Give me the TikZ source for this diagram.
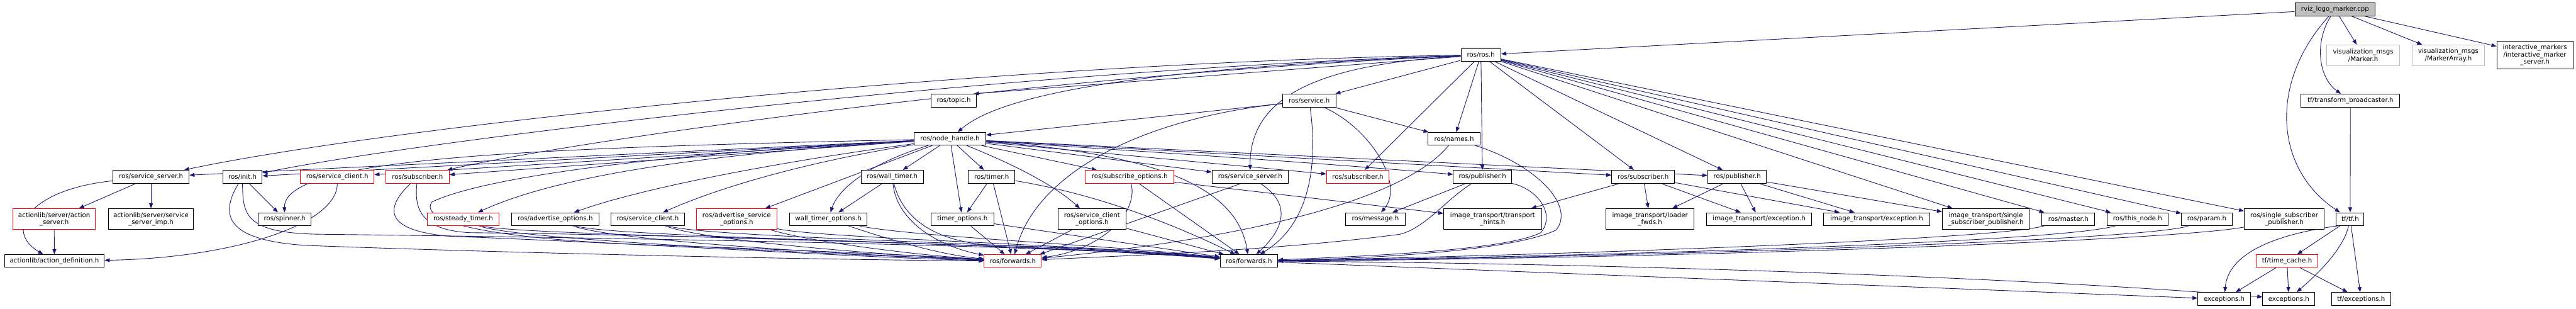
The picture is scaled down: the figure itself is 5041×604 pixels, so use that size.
\documentclass[tikz,border=0pt]{standalone}
\usepackage{fontspec}
\setmainfont{DejaVu Sans}
\usetikzlibrary{arrows.meta}
\definecolor{edgec}{HTML}{191970}
\definecolor{rootgray}{HTML}{BFBFBF}
\definecolor{lightb}{HTML}{BFBFBF}
\definecolor{redb}{HTML}{FF0000}
\pgfdeclarelayer{bg}
\pgfsetlayers{bg,main}
\tikzset{
 nd/.style={draw=black, line width=1.2pt, inner sep=0pt, align=center, font=\fontsize{12.6}{14.4}\selectfont, fill=white},
 trunc/.style={draw=redb},
 extbox/.style={draw=lightb},
 rootfill/.style={fill=rootgray},
 dep/.style={draw=edgec, line width=1.1pt, -{Triangle[length=10pt,width=7.5pt]}},
}
\newcommand\Nd[7]{\node[nd,#6,minimum width={#4-#2},minimum height={#5-#3}] (#1) at ({(#2+#4)/2},{(#3+#5)/2}) {#7};}
\begin{document}
\begin{tikzpicture}[x=1pt,y=-1pt]
\useasboundingbox (0,0) rectangle (5041,604);
\Nd{root}{4491}{6}{4648}{31}{rootfill}{rviz\_logo\_marker.cpp}
\Nd{vmA}{4553}{88}{4696}{128}{extbox}{visualization\_msgs\\/Marker.h}
\Nd{vmB}{4720}{88}{4862}{128}{extbox}{visualization\_msgs\\/MarkerArray.h}
\Nd{ims}{4886}{80}{5035}{135}{}{interactive\_markers\\/interactive\_marker\\\_server.h}
\Nd{tfb}{4503}{184}{4696}{210}{}{tf/transform\_broadcaster.h}
\Nd{rosh}{2859}{95}{2937}{120}{}{ros/ros.h}
\Nd{topic}{1822}{184}{1911}{210}{}{ros/topic.h}
\Nd{service}{2510}{184}{2614}{210}{}{ros/service.h}
\Nd{nh}{1789}{259}{1929}{284}{}{ros/node\_handle.h}
\Nd{names}{2794}{259}{2897}{284}{}{ros/names.h}
\Nd{ssA}{221}{333}{370}{359}{}{ros/service\_server.h}
\Nd{init}{436}{333}{513}{359}{}{ros/init.h}
\Nd{scr}{588}{333}{732}{359}{trunc}{ros/service\_client.h}
\Nd{subA}{755}{333}{879}{359}{trunc}{ros/subscriber.h}
\Nd{wt}{1685}{333}{1807}{359}{}{ros/wall\_timer.h}
\Nd{timer}{1895}{333}{1986}{359}{}{ros/timer.h}
\Nd{subopt}{2124}{333}{2297}{359}{trunc}{ros/subscribe\_options.h}
\Nd{ssB}{2372}{333}{2521}{359}{}{ros/service\_server.h}
\Nd{subB}{2596}{333}{2718}{359}{trunc}{ros/subscriber.h}
\Nd{pubA}{2844}{333}{2958}{359}{}{ros/publisher.h}
\Nd{subC}{3154}{333}{3277}{359}{}{ros/subscriber.h}
\Nd{pubB}{3342}{333}{3457}{359}{}{ros/publisher.h}
\Nd{as}{25}{408}{187}{449}{trunc}{actionlib/server/action\\\_server.h}
\Nd{ssimp}{212}{408}{379}{449}{}{actionlib/server/service\\\_server\_imp.h}
\Nd{aso}{1363}{408}{1520}{449}{trunc}{ros/advertise\_service\\\_options.h}
\Nd{sco}{2071}{408}{2203}{449}{}{ros/service\_client\\\_options.h}
\Nd{th}{2825}{408}{3017}{449}{}{image\_transport/transport\\\_hints.h}
\Nd{lf}{3143}{408}{3315}{449}{}{image\_transport/loader\\\_fwds.h}
\Nd{issp}{3801}{408}{3971}{449}{}{image\_transport/single\\\_subscriber\_publisher.h}
\Nd{rssp}{4392}{408}{4548}{449}{}{ros/single\_subscriber\\\_publisher.h}
\Nd{spinner}{505}{416}{609}{441}{}{ros/spinner.h}
\Nd{st}{836}{416}{977}{441}{trunc}{ros/steady\_timer.h}
\Nd{ao}{1001}{416}{1172}{441}{}{ros/advertise\_options.h}
\Nd{scb}{1196}{416}{1339}{441}{}{ros/service\_client.h}
\Nd{wto}{1545}{416}{1697}{441}{}{wall\_timer\_options.h}
\Nd{tmo}{1822}{416}{1945}{441}{}{timer\_options.h}
\Nd{msg}{2633}{416}{2750}{441}{}{ros/message.h}
\Nd{iteA}{3340}{416}{3545}{441}{}{image\_transport/exception.h}
\Nd{iteB}{3569}{416}{3776}{441}{}{image\_transport/exception.h}
\Nd{master}{3996}{416}{4099}{441}{}{ros/master.h}
\Nd{thisnode}{4123}{416}{4243}{441}{}{ros/this\_node.h}
\Nd{param}{4269}{416}{4368}{441}{}{ros/param.h}
\Nd{tftf}{4572}{416}{4626}{441}{}{tf/tf.h}
\Nd{ad}{9}{498}{204}{523}{}{actionlib/action\_definition.h}
\Nd{fr}{1926}{498}{2038}{523}{trunc}{ros/forwards.h}
\Nd{fb}{2388}{498}{2500}{523}{}{ros/forwards.h}
\Nd{tc}{4415}{498}{4536}{523}{trunc}{tf/time\_cache.h}
\Nd{exA}{4301}{572}{4404}{598}{}{exceptions.h}
\Nd{exB}{4428}{572}{4530}{598}{}{exceptions.h}
\Nd{tfex}{4563}{572}{4678}{598}{}{tf/exceptions.h}
\begin{pgfonlayer}{bg}
% root
\draw[dep] (root) -- (rosh);
\draw[dep] (root) .. controls (4440,160) and (4450,330) .. (tftf);
\draw[dep] (root) .. controls (4530,80) and (4535,150) .. (tfb);
\draw[dep] (root) -- (vmA);
\draw[dep] (root) -- (vmB);
\draw[dep] (root) -- (ims);
\draw[dep] (tfb) -- (tftf);
\draw[dep] ([xshift=4pt]tftf.south west) .. controls (4440,460) and (4360,500) .. (exA);
\draw[dep] (tftf) -- (tc);
\draw[dep] (tftf) .. controls (4585,490) and (4530,540) .. (exB);
\draw[dep] (tftf) -- (tfex);
\draw[dep] (tc) -- (exA);
\draw[dep] (tc) -- (exB);
\draw[dep] (tc) -- (tfex);
\draw[dep] (fb) -- (exA);
\draw[dep] (fb) .. controls (3200,515) and (4000,545) .. (exB);
% ros.h
\draw[dep] (rosh) -- ([xshift=-6pt]topic.north east);
\draw[dep] (rosh) .. controls (2300,130) and (1970,175) .. (nh);
\draw[dep] (rosh) -- (service);
\draw[dep] (rosh) -- (names);
\draw[dep] (rosh) -- (subB);
\draw[dep] (rosh) -- (pubA);
\draw[dep] (rosh) -- (subC);
\draw[dep] (rosh) -- (pubB);
\draw[dep] (rosh) -- (issp);
\draw[dep] (rosh) -- (master);
\draw[dep] (rosh) -- (thisnode);
\draw[dep] (rosh) -- (param);
\draw[dep] (rosh) -- (rssp);
\draw[dep] (rosh) .. controls (2000,120) and (800,240) .. (ssA);
\draw[dep] (rosh) .. controls (2000,135) and (850,270) .. (init);
\draw[dep] (rosh) .. controls (2000,148) and (1100,280) .. (subA);
\draw[dep] (rosh) .. controls (2600,125) and (2445,180) .. (ssB);
% service.h
\draw[dep] (service) -- (nh);
\draw[dep] (service) .. controls (2250,230) and (2030,330) .. (fr);
\draw[dep] (service) .. controls (2680,250) and (2750,360) .. (msg);
\draw[dep] (service) -- (names);
\draw[dep] (service) .. controls (2580,330) and (2560,440) .. (fb);
% names.h
\draw[dep] (names) .. controls (2740,400) and (2400,470) .. (fr);
\draw[dep] (names) .. controls (3000,320) and (3085,400) .. (3045,450) .. controls (2960,490) and (2700,505) .. (fb);
% publisher 1
\draw[dep] (pubA) -- (msg);
\draw[dep] (pubA) .. controls (3010,370) and (3045,420) .. (3015,455) .. controls (2950,488) and (2700,500) .. (fb);
\draw[dep] (pubA) .. controls (2830,390) and (2790,445) .. (2740,458) .. controls (2500,490) and (2200,500) .. (fr);
% subscriber / publisher (image_transport side)
\draw[dep] (subC) -- (th);
\draw[dep] (subC) -- (lf);
\draw[dep] (subC) -- (iteA);
\draw[dep] (subC) -- (iteB);
\draw[dep] (pubB) -- (lf);
\draw[dep] (pubB) -- (iteA);
\draw[dep] (pubB) -- (iteB);
\draw[dep] (pubB) -- (issp);
% master etc.
\draw[dep] (master) .. controls (3900,470) and (3000,500) .. (fb);
\draw[dep] (thisnode) .. controls (4030,475) and (3050,503) .. (fb);
\draw[dep] (param) .. controls (4200,472) and (3100,505) .. (fb);
\draw[dep] (rssp) .. controls (4250,472) and (3200,507) .. (fb);
% node_handle.h
\draw[dep] (nh) -- (ssA);
\draw[dep] (nh) -- (init);
\draw[dep] (nh) .. controls (1000,290) and (555,310) .. (spinner);
\draw[dep] (nh) -- (scr);
\draw[dep] (nh) -- (subA);
\draw[dep] (nh) .. controls (1400,300) and (1100,340) .. (st);
\draw[dep] (nh) .. controls (1500,320) and (1250,370) .. (ao);
\draw[dep] (nh) .. controls (1560,320) and (1400,370) .. (scb);
\draw[dep] (nh) -- (aso);
\draw[dep] (nh) .. controls (1700,320) and (1640,370) .. (wto);
\draw[dep] (nh) -- (wt);
\draw[dep] (nh) -- (tmo);
\draw[dep] (nh) -- (timer);
\draw[dep] (nh) .. controls (1980,320) and (2060,360) .. (sco);
\draw[dep] (nh) -- (subopt);
\draw[dep] (nh) -- (ssB);
\draw[dep] (nh) -- (subB);
\draw[dep] (nh) .. controls (2300,300) and (2600,320) .. (pubA);
\draw[dep] (nh) -- (subC);
\draw[dep] (nh) -- (pubB);
\draw[dep] (nh) .. controls (2250,300) and (2420,360) .. (fb);
\draw[dep] (nh) .. controls (1300,300) and (950,345) .. (845,395) .. controls (815,440) and (1000,470) .. (1300,480) .. controls (1600,490) and (1800,500) .. (fr);
% left part
\draw[dep] (ssA) .. controls (60,370) and (5,450) .. (ad);
\draw[dep] (ssA) -- (as);
\draw[dep] (ssA) -- (ssimp);
\draw[dep] (as) -- (ad);
\draw[dep] (scr) .. controls (660,440) and (450,505) .. (ad);
\draw[dep] (init) -- (spinner);
\draw[dep] (init) .. controls (430,420) and (440,470) .. (600,480) .. controls (1000,495) and (1600,508) .. (fr);
\draw[dep] (init) .. controls (475,420) and (480,455) .. (620,458) .. controls (1200,465) and (2100,480) .. (fb);
\draw[dep] (subA) .. controls (760,400) and (740,450) .. (880,462) .. controls (1300,478) and (1700,505) .. (fr);
\draw[dep] (subA) .. controls (812,400) and (815,450) .. (920,455) .. controls (1500,462) and (2100,484) .. (fb);
\draw[dep] (st) .. controls (1000,468) and (1600,496) .. (fr);
\draw[dep] (st) .. controls (1000,462) and (2000,472) .. (fb);
\draw[dep] (ao) .. controls (1200,472) and (1700,500) .. (fr);
\draw[dep] (ao) .. controls (1200,466) and (2050,476) .. (fb);
\draw[dep] (scb) .. controls (1380,472) and (1750,500) .. (fr);
\draw[dep] (scb) .. controls (1380,466) and (2100,477) .. (fb);
\draw[dep] (aso) .. controls (1580,472) and (1800,500) .. (fr);
\draw[dep] (aso) .. controls (1600,466) and (2150,479) .. (fb);
\draw[dep] (wto) .. controls (1750,472) and (1850,500) .. (fr);
\draw[dep] (wto) .. controls (1780,463) and (2200,481) .. (fb);
\draw[dep] (wt) -- (wto);
\draw[dep] (wt) .. controls (1755,430) and (1830,480) .. (fr);
\draw[dep] (wt) .. controls (1770,440) and (1850,476) .. (1950,480) .. controls (2150,485) and (2300,495) .. (fb);
\draw[dep] (timer) -- (tmo);
\draw[dep] (timer) -- (fr);
\draw[dep] (timer) .. controls (2150,380) and (2300,440) .. (fb);
\draw[dep] (tmo) -- (fr);
\draw[dep] (tmo) -- (fb);
\draw[dep] (sco) -- (fr);
\draw[dep] (sco) -- (fb);
\draw[dep] (subopt) .. controls (2228,420) and (2150,490) .. (fr);
\draw[dep] (subopt) -- (fb);
\draw[dep] (subopt) -- (th);
\draw[dep] ([xshift=-20pt]ssB.south) -- ([xshift=-4pt]fr.north east);
\draw[dep] (ssB) .. controls (2530,400) and (2510,450) .. (fb);
\end{pgfonlayer}
\end{tikzpicture}
\end{document}
